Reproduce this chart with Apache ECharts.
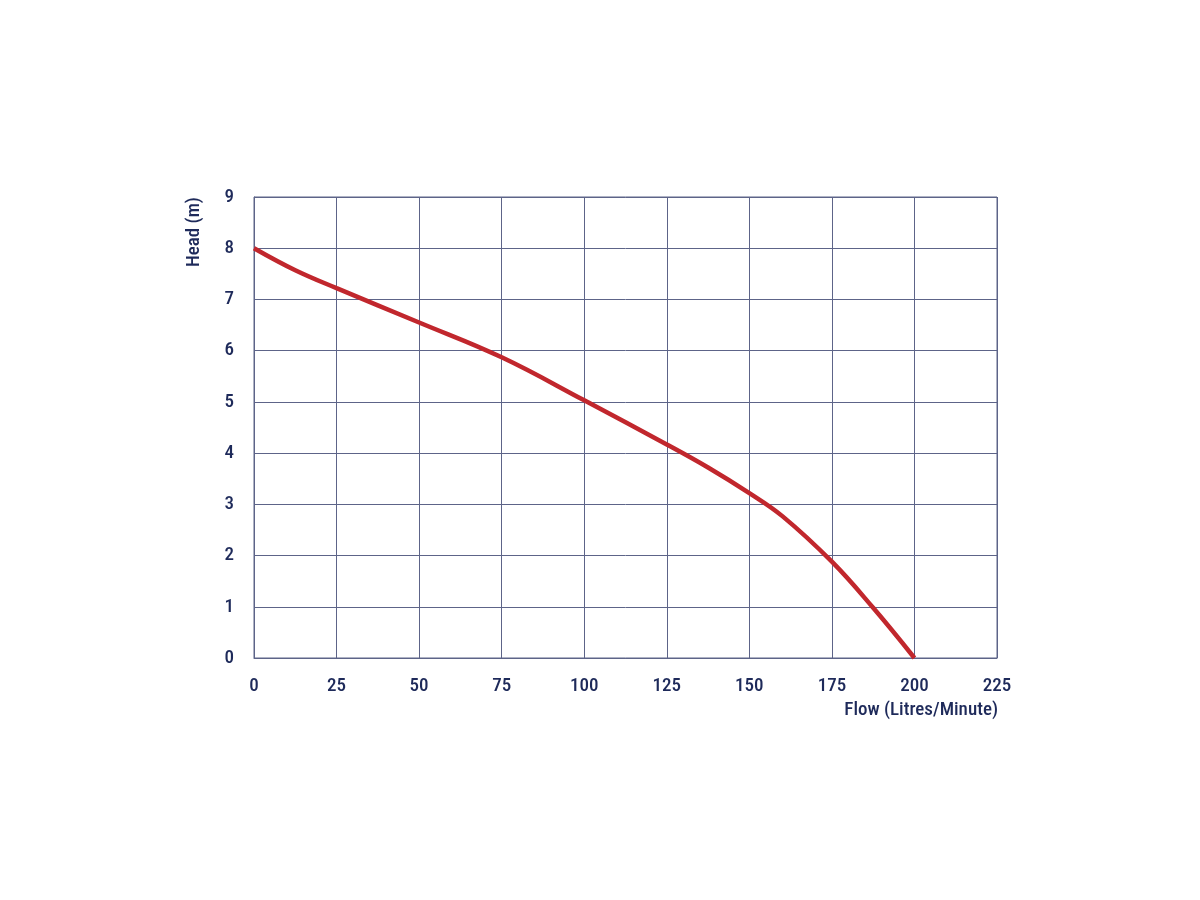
<!DOCTYPE html>
<html><head><meta charset="utf-8">
<script src="https://cdn.jsdelivr.net/npm/echarts@6/dist/echarts.min.js"></script>
<style>html,body{margin:0;padding:0;background:#fff}#c{width:1200px;height:900px}</style>
</head><body><div id="c"></div>
<script>
const flow = [0, 12.5, 25, 50, 75, 100, 125, 137.5, 150, 160, 175, 187.5, 200];
const head = [8.0, 7.57, 7.22, 6.55, 5.87, 5.03, 4.17, 3.72, 3.22, 2.77, 1.88, 0.98, 0];
const xTicks = [0, 25, 50, 75, 100, 125, 150, 175, 200, 225];
const yTicks = [0, 1, 2, 3, 4, 5, 6, 7, 8, 9];
const xName = 'Flow (Litres/Minute)';
const yName = 'Head (m)';

const txt = '#1e2a5a';
const gridCol = '#5d6488';
const font = "'Roboto Condensed', 'Roboto', sans-serif";
const fs = 19;
const chart = echarts.init(document.getElementById('c'));
chart.setOption({
  animation: false,
  grid: {left: 254, right: 203, top: 197, bottom: 242, containLabel: false},
  xAxis: {
    type: 'value', min: xTicks[0], max: xTicks[xTicks.length-1], interval: 25,
    axisLine: {lineStyle: {color: gridCol, width: 1}},
    axisTick: {show: false},
    axisLabel: {color: txt, fontSize: fs, fontWeight: 500, fontFamily: font, margin: 19},
    splitLine: {show: true, lineStyle: {color: gridCol, width: 1}}
  },
  yAxis: {
    type: 'value', min: yTicks[0], max: yTicks[yTicks.length-1], interval: 1,
    axisLine: {show: true, lineStyle: {color: gridCol, width: 1}},
    axisTick: {show: false},
    axisLabel: {color: txt, fontSize: fs, fontWeight: 500, fontFamily: font, margin: 20},
    splitLine: {show: true, lineStyle: {color: gridCol, width: 1}}
  },
  graphic: [
    {type: 'rect', shape: {x: 254, y: 197, width: 743, height: 461}, style: {fill: 'none', stroke: gridCol, lineWidth: 1}, silent: true},
    {type: 'text', x: 998, y: 701, style: {text: xName, fill: txt, fontSize: fs, fontWeight: 500, fontFamily: font, align: 'right', verticalAlign: 'top'}},
    {type: 'text', x: 194, y: 232, rotation: Math.PI/2, style: {text: yName, fill: txt, fontSize: fs, fontWeight: 500, fontFamily: font, align: 'center', verticalAlign: 'middle'}}
  ],
  series: [{
    type: 'line', data: flow.map((f, i) => [f, head[i]]),
    smooth: 0.4, showSymbol: false,
    lineStyle: {color: '#c1272d', width: 4.5}
  }]
});
</script></body></html>
